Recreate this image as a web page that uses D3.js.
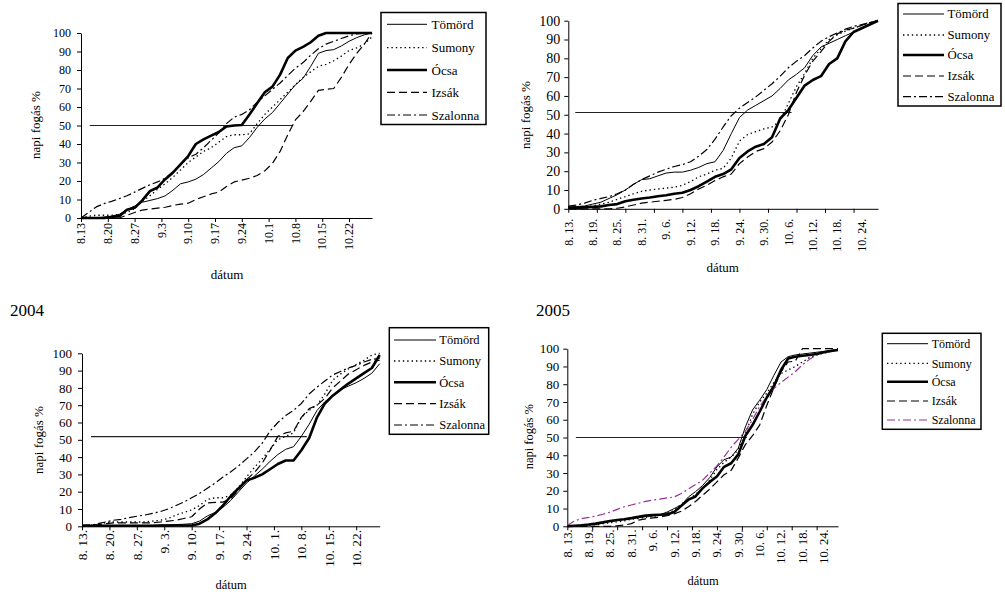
<!DOCTYPE html>
<html><head><meta charset="utf-8">
<script src="https://cdn.jsdelivr.net/npm/d3@7"></script>
<style>
body{margin:0;background:#fff;}
svg{display:block;font-family:"Liberation Serif","Times New Roman",serif;}
</style></head><body>
<svg id="chart" width="1005" height="616"></svg>
<script>
// ---------- DATA ----------
const seriesNames = ["Tömörd", "Sumony", "Ócsa", "Izsák", "Szalonna"];
// day index after 8.13 at which the values are read
const days = [0,2,4,6,8,10,12,14,16,18,20,22,24,26,28,30,32,34,36,38,40,42,44,46,48,50,52,54,56,58,60,62,64,66,68,70,72,74,76];
const yTickValues = [0,10,20,30,40,50,60,70,80,90,100];
const tickDays = [0,7,14,21,28,35,42,49,56,63,70];

const labelDays7 = [0,7,14,21,28,35,42,49,56,63,70];
const labelDays6 = [0,6,12,18,24,30,36,42,48,54,60,66,72];
const labels1 = ["8.13","8.20","8.27","9.3","9.10","9.17","9.24","10.1","10.8","10.15","10.22"];
const labels2 = ["8. 13.","8. 19.","8. 25.","8. 31.","9. 6.","9. 12.","9. 18.","9. 24.","9. 30.","10. 6.","10. 12.","10. 18.","10. 24."];
const labels3 = ["8. 13.","8. 20.","8. 27.","9. 3.","9. 10.","9. 17.","9. 24.","10. 1.","10. 8.","10. 15.","10. 22."];
const labels4 = ["8. 13.","8. 19.","8. 25.","8. 31.","9. 6.","9. 12.","9. 18.","9. 24.","9. 30.","10. 6.","10. 12.","10. 18.","10. 24."];

// panel 1 (top left)
const p1Tomord   = [0,0,0,0.5,1,2,4.5,6.5,8.5,9.5,10.5,12,15,18.5,19.5,21,23.5,27,30.5,35,38,39,43.5,49,53.5,57,62,67,72,75.5,82,89,90.5,91,93,95.5,97.5,99,100];
const p1Sumony   = [0,1,1.5,1.5,1.5,2,3,5,9,12,15.5,18.5,22,26,30,33,36,38,41,44,45,45,45.5,51,56,60,64,68,72,76,79,82,83,85,87.5,90.5,92,94,98];
const p1Ocsa     = [0,0,0,0,0.5,1,4.5,5.5,9.5,14.5,16.5,21,24.5,29,33.5,40,42.5,44.5,46.5,49.5,50,50.3,56,62,68,71,77.5,86.5,90.5,92.5,95,98.5,100,100,100,100,100,100,100];
const p1Izsak    = [0,0,0,0,0,0,1.5,3,4.3,4.8,5.3,5.8,6.8,7.5,8,10,11.5,13,14,17,19.5,20.5,21.5,23,25.5,29.5,36,45,53,57.5,63,69,69.5,70,76,83,89,94,100];
const p1Szalonna = [0,3,6,7.8,9,10.5,12,14,16,18,19.5,21.5,25,29,32.5,34.5,38,42,46,51,54.5,56,58.5,62.5,66,69.5,73,77,81,84,88,91.5,94,95.5,97,98.5,99.5,100,100];
const p1Ref = [2.3, 55.4, 50];

// panel 2 (top right)
const p2Tomord   = [1,1.2,1.5,2.5,3.5,5.5,7.5,10,13,15.5,16,17.5,19,19.5,19.5,20.5,22,24,25,31,40,48.5,52.5,55,57.5,60,64,68.5,71.5,75,81.5,86,88,90,92,94,96,98,100];
const p2Sumony   = [0.5,0.8,1,1.5,2.5,3.5,5,6.5,8,9.3,10,10.5,11,11.5,12.5,14.5,17,18.5,20.5,21.5,27,36,39.5,41,42.5,43.5,47,56,65,72,80,85,90,92.5,94.5,96,97.5,99,100];
const p2Ocsa     = [0.5,0.5,0.8,1,1.3,2,2.5,4,4.8,5.5,6,6.7,7.2,8,8.5,10,12,14.5,17,18.5,21,27,30.5,33,34.5,38,48,52.5,59,65.5,68.5,70.5,77,80,89,94,96,98,100];
const p2Izsak    = [0,0,0,0,0,0,0.3,1,2,3,3.5,4,4.5,5,6,8,10.5,12.5,15,17,18.5,24,27.5,30.5,32,35.5,41.5,50,62,71,78.5,83.5,89,93,95,96,97.5,99,100];
const p2Szalonna = [1.5,2,3,4.5,5.5,6.5,8,10,13,15.5,17.5,19.5,21,22.5,23.5,25,28,31.5,37,43.5,49.5,53.5,56.5,59.5,63,66.5,70.5,75,78.5,81.5,85.5,89,91.5,93.5,95.5,97,98,99,100];
const p2Ref = [1.7, 54.8, 51.2];

// panel 3 (2004)
const p3Tomord   = [0.5,0.5,0.5,0.5,0.5,0.5,0.5,0.5,0.5,0.5,0.7,0.8,1,1.2,1.5,3,6,8,11,15,20,25,29,33,37.5,41.5,44.5,46,52,59,67,72,75.5,79,81,83,85.5,88.5,94];
const p3Sumony   = [0.5,0.5,1,2,2.5,2.5,2.5,2.5,2.5,3,3.5,4.5,6.5,8,9.5,12,15.5,16.5,16.5,18,22.5,28.5,34,39,44.5,50,52,54,63,67,70,76.5,84.5,88,91,93.5,96,99,100];
const p3Ocsa     = [0.3,0.3,0.3,0.3,0.3,0.3,0.3,0.3,0.3,0.3,0.4,0.4,0.5,0.5,0.5,1.5,4,7.5,12,17.5,22,26.5,28,30,33,36,38,38,44,51,63,71,75.5,79,82.5,85.5,88.5,91.5,99];
const p3Izsak    = [0.5,0.8,1,1.5,2,2,2,2,2,2,2.5,3,3.5,4.5,5.5,10,13.5,13.8,14,16,21,27,31,36.5,44,52,54,55,63,68,70,74,80,84,88,90.5,93,95,96];
const p3Szalonna = [0,0.5,1.5,2.5,3.5,4,5,5.8,6.5,7.5,8.5,10,12,14,16.5,19,22,25,28.5,31.5,35,39,43,48,55,60,64,67,71,76.5,80.5,84,87.5,89.5,91.5,93,95,96.5,97];
const p3Ref = [2.3, 57.4, 51.8];

// panel 4 (2005)
const p4Tomord   = [0,0.3,0.6,1,1.3,2,2.7,3.3,4,4.5,5,5.5,6,6.5,8,10,12,16.5,19.5,23,27.5,33.5,37.5,39,44,56,65.5,71,77,85,92.5,95.5,96.5,97,97.5,98,98.5,99,99.5];
const p4Sumony   = [0,0,0.2,0.5,1,1.5,2,2.5,3,4,4.5,5,5.5,6.2,7.5,9,12.5,15,18,21,26,32,36,39,43,52,63,70,75,81,86,88,90,92.5,95,96.5,97.5,98.5,99.5];
const p4Ocsa     = [0,0.3,0.6,1,1.5,2.2,3,3.5,4,4.6,5.3,6,6.3,6.5,6.7,8,11.5,15,16.8,21.5,25,28,33.5,35.5,40.5,51,57,64.5,72.5,79,88,94.5,95.5,96,96.5,97,98,98.7,99.3];
const p4Izsak    = [0,0,0,0,0,0,0,0.3,0.7,1.5,3.5,4.2,4.7,5.2,6,7,8.5,11,14,17.5,21,25,29,31.5,38.5,46,51,57,68,78,87,92.5,93,100,100,100,100,100,100];
const p4Szalonna = [0.5,3,4.3,5,5.8,6.8,8,9.5,11,12,13,14,14.8,15.3,16,16.5,18.5,21,23.5,26,30,34,39,44.5,49,53.5,60,67.5,73,77.5,81,84,87,91,94,96.5,98,99,99.5];
const p4Ref = [2.4, 50.4, 50];

// ---------- STYLE / LAYOUT ----------
const lineStyles = [
  {w:1,   dash:null},
  {w:1.3, dash:"1.4,3"},
  {w:2.6, dash:null},
  {w:1.2, dash:"8,4"},
  {w:1.2, dash:"8,3,2,3"}
];

const panels = [
  {series:[p1Tomord,p1Sumony,p1Ocsa,p1Izsak,p1Szalonna], ref:p1Ref, labels:labels1, labelDays:labelDays7,
   x0:81, x1:372, yt:33, yb:218, yFont:12, yPad:6, xFont:12, xOff:5,
   yTitle:[35,125,13], xTitle:[227,279,13], title:null,
   legend:{x:381, y:12.5, w:105, h:112, rows:[24.3,47.7,70,92.3,115], l0:387, l1:427, tx:431.5, font:13},
   szColor:"#000"},
  {series:[p2Tomord,p2Sumony,p2Ocsa,p2Izsak,p2Szalonna], ref:p2Ref, labels:labels2, labelDays:labelDays6,
   x0:568.3, x1:878, yt:20.7, yb:208.8, yFont:14, yPad:4, xFont:12, xOff:10,
   yTitle:[525,115,13], xTitle:[722.7,272,13], title:null,
   legend:{x:898, y:3.5, w:103, h:102.5, rows:[14,35,55,76,96.7], l0:903, l1:944, tx:947.5, font:12.8},
   szColor:"#000"},
  {series:[p3Tomord,p3Sumony,p3Ocsa,p3Izsak,p3Szalonna], ref:p3Ref, labels:labels3, labelDays:labelDays7,
   x0:82, x1:379.7, yt:353.3, yb:526.3, yFont:13, yPad:6, xFont:13.5, xOff:3.5,
   yTitle:[38,440,13], xTitle:[231,589,12.5], title:["2004",10,316],
   legend:{x:389.3, y:327.7, w:99.4, h:106.6, rows:[340,361,382.3,403.7,425], l0:394, l1:436, tx:439.3, font:12.5},
   szColor:"#000"},
  {series:[p4Tomord,p4Sumony,p4Ocsa,p4Izsak,p4Szalonna], ref:p4Ref, labels:labels4, labelDays:labelDays6,
   x0:567.3, x1:838, yt:348.7, yb:526.3, yFont:13, yPad:4, xFont:12.5, xOff:3,
   yTitle:[528.3,436.7,12.5], xTitle:[703,585,12.5], title:["2005",536,316],
   legend:{x:882.3, y:333.3, w:98.7, h:96, rows:[343.7,363.3,381.7,401,420], l0:887, l1:928, tx:931.7, font:12},
   szColor:"#993399"}
];

const svg = d3.select("#chart");

function drawPanel(p){
  const g = svg.append("g");
  const x = d3.scaleLinear().domain([0,76]).range([p.x0,p.x1]);
  const y = d3.scaleLinear().domain([0,100]).range([p.yb,p.yt]);

  // y axis
  const ya = g.append("g").attr("transform",`translate(${p.x0},0)`)
    .call(d3.axisLeft(y).tickValues(yTickValues).tickSize(4).tickSizeOuter(0).tickPadding(p.yPad).tickFormat(d3.format("d")));
  ya.selectAll("text").attr("font-size",p.yFont).attr("font-family","Liberation Serif, Times New Roman, serif").attr("fill","#000");
  ya.selectAll("line,path").attr("stroke","#000").attr("stroke-width",1);

  // x axis
  const xa = g.append("g").attr("transform",`translate(0,${p.yb})`)
    .call(d3.axisBottom(x).tickValues(tickDays).tickSize(4).tickSizeOuter(0).tickFormat(""));
  xa.selectAll("line,path").attr("stroke","#000").attr("stroke-width",1);

  // rotated date labels
  g.append("g").selectAll("text").data(p.labelDays).join("text")
    .attr("transform",(d)=>`translate(${x(d)},${p.yb+p.xOff}) rotate(-90)`)
    .attr("text-anchor","end").attr("dy","0.35em")
    .attr("font-size",p.xFont).attr("fill","#000")
    .text((d,i)=>p.labels[i]);

  // 50% reference line
  g.append("line").attr("x1",x(p.ref[0])).attr("x2",x(p.ref[1]))
    .attr("y1",y(p.ref[2])).attr("y2",y(p.ref[2]))
    .attr("stroke","#222").attr("stroke-width",1.2);

  // series
  const line = d3.line().x((v,i)=>x(days[i])).y(v=>y(v));
  const order = [3,1,4,0,2];
  order.forEach(k=>{
    const st = lineStyles[k];
    g.append("path").datum(p.series[k]).attr("d",line)
      .attr("fill","none")
      .attr("stroke", k===4 ? p.szColor : "#000")
      .attr("stroke-width",st.w)
      .attr("stroke-dasharray",st.dash)
      .attr("stroke-linejoin","round");
  });

  // axis titles
  g.append("text").attr("transform",`translate(${p.yTitle[0]},${p.yTitle[1]}) rotate(-90)`)
    .attr("text-anchor","middle").attr("dy","0.35em").attr("font-size",p.yTitle[2]).text("napi fogás %");
  g.append("text").attr("x",p.xTitle[0]).attr("y",p.xTitle[1]).attr("text-anchor","middle")
    .attr("font-size",p.xTitle[2]).text("dátum");
  if(p.title){
    g.append("text").attr("x",p.title[1]).attr("y",p.title[2]).attr("font-size",17).text(p.title[0]);
  }

  // legend
  const L = p.legend;
  g.append("rect").attr("x",L.x).attr("y",L.y).attr("width",L.w).attr("height",L.h)
    .attr("fill","#fff").attr("stroke","#000").attr("stroke-width",1.5);
  seriesNames.forEach((name,k)=>{
    const st = lineStyles[k];
    g.append("line").attr("x1",L.l0).attr("x2",L.l1).attr("y1",L.rows[k]).attr("y2",L.rows[k])
      .attr("stroke", k===4 ? p.szColor : "#000").attr("stroke-width",st.w)
      .attr("stroke-dasharray",st.dash);
    g.append("text").attr("x",L.tx).attr("y",L.rows[k]).attr("dy","0.35em")
      .attr("font-size",L.font).attr("fill","#000").text(name);
  });
}

panels.forEach(drawPanel);
</script>
</body></html>
